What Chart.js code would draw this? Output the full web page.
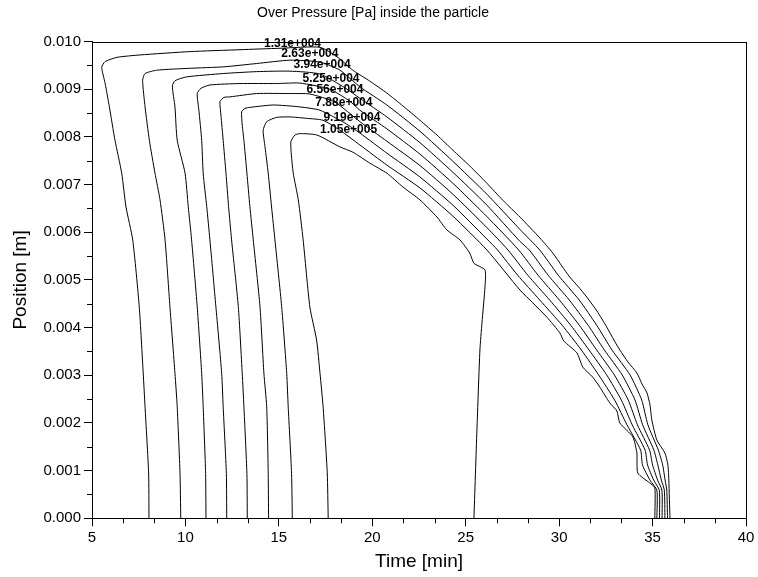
<!DOCTYPE html>
<html>
<head>
<meta charset="utf-8">
<script src="https://cdn.jsdelivr.net/npm/chart.js@4.4.0/dist/chart.umd.min.js"></script>
<style>
html, body { margin: 0; padding: 0; background: #fff; }
#wrap { width: 758px; height: 577px; }
</style>
</head>
<body>
<div id="wrap"><canvas id="chart" width="758" height="577"></canvas></div>
<script>
const FONT = "'Liberation Sans', Arial, sans-serif";

// tick labels
const xTicks = [5, 10, 15, 20, 25, 30, 35, 40];
const yTicks = [0, 0.001, 0.002, 0.003, 0.004, 0.005, 0.006, 0.007, 0.008, 0.009, 0.010];

// contour levels [Pa] and where their labels sit (time, position)
const levelText = ['1.31e+004', '2.63e+004', '3.94e+004', '5.25e+004', '6.56e+004', '7.88e+004', '9.19e+004', '1.05e+005'];
const labelX = [15.73, 16.66, 17.31, 17.79, 18.00, 18.48, 18.91, 18.73];
const labelY = [0.00996, 0.00975, 0.00951, 0.00923, 0.00900, 0.00872, 0.00841, 0.00816];

// contour lines as [time min, position m]
const c1 = [[8.05,0],[8.03,0.00095],[7.84,0.00233],[7.74,0.00305],[7.53,0.00443],[7.18,0.00584],[6.82,0.00653],[6.59,0.00724],[6.23,0.00793],[5.93,0.00863],[5.70,0.00913],[5.52,0.00946],[5.70,0.00958],[6.34,0.00967],[7.57,0.00972],[10.24,0.00979],[12.92,0.00983],[15.06,0.00986],[17.20,0.00988],[18.16,0.00967],[18.96,0.00940],[19.87,0.00917],[20.78,0.00892],[21.64,0.00865],[22.55,0.00835],[23.46,0.00804],[24.32,0.00772],[25.22,0.00739],[26.13,0.00703],[26.99,0.00667],[27.90,0.00632],[28.97,0.00588],[29.67,0.00556],[30.15,0.00529],[30.57,0.00506],[31.00,0.00487],[31.48,0.00464],[32.02,0.00435],[32.55,0.00401],[32.93,0.00374],[33.25,0.00353],[33.68,0.00328],[34.16,0.00305],[34.43,0.00282],[34.70,0.00263],[34.86,0.00238],[34.96,0.00206],[35.23,0.00164],[35.66,0.00137],[35.82,0.00112],[35.87,0.00080],[35.93,0]];
const c2 = [[9.75,0],[9.71,0.00094],[9.56,0.00234],[9.44,0.00304],[9.17,0.00444],[8.91,0.00584],[8.64,0.00668],[8.37,0.00724],[8.07,0.00793],[7.84,0.00863],[7.71,0.00919],[7.84,0.00933],[8.46,0.00940],[10.24,0.00944],[12.02,0.00947],[13.81,0.00954],[15.59,0.00961],[17.20,0.00957],[18.27,0.00940],[19.34,0.00905],[20.78,0.00867],[22.55,0.00812],[24.31,0.00749],[26.13,0.00680],[27.90,0.00606],[28.96,0.00563],[29.95,0.00510],[31.07,0.00458],[32.01,0.00405],[32.83,0.00353],[33.79,0.00301],[34.42,0.00248],[34.75,0.00196],[35.31,0.00143],[35.54,0.00112],[35.67,0.00080],[35.76,0.00059],[35.80,0]];
const c3 = [[11.10,0],[11.08,0.00094],[10.95,0.00234],[10.87,0.00304],[10.63,0.00444],[10.33,0.00584],[10.15,0.00654],[9.98,0.00724],[9.56,0.00793],[9.44,0.00863],[9.30,0.00907],[9.44,0.00918],[10.07,0.00926],[12.02,0.00933],[13.81,0.00937],[15.59,0.00938],[17.20,0.00932],[18.54,0.00903],[19.34,0.00881],[20.78,0.00842],[22.55,0.00788],[24.31,0.00726],[26.13,0.00657],[27.90,0.00581],[28.40,0.00563],[29.41,0.00510],[30.54,0.00458],[31.55,0.00405],[32.42,0.00353],[33.37,0.00301],[34.06,0.00248],[34.47,0.00196],[35.07,0.00143],[35.28,0.00112],[35.47,0.00080],[35.63,0.00059],[35.66,0]];
const c4 = [[12.21,0],[12.19,0.00094],[12.02,0.00234],[11.94,0.00304],[11.63,0.00444],[11.31,0.00584],[11.14,0.00654],[10.95,0.00724],[10.87,0.00793],[10.72,0.00856],[10.63,0.00891],[10.83,0.00902],[11.31,0.00909],[12.92,0.00912],[14.88,0.00912],[16.13,0.00913],[17.73,0.00900],[18.80,0.00875],[19.34,0.00856],[20.78,0.00817],[22.55,0.00764],[24.31,0.00703],[26.13,0.00633],[27.83,0.00563],[28.87,0.00510],[30.01,0.00458],[31.08,0.00405],[32.01,0.00353],[32.95,0.00301],[33.70,0.00248],[34.19,0.00196],[34.84,0.00143],[35.00,0.00112],[35.27,0.00080],[35.50,0.00059],[35.51,0]];
const c5 = [[13.31,0],[13.29,0.00094],[13.13,0.00234],[13.04,0.00304],[12.83,0.00444],[12.47,0.00584],[12.31,0.00654],[12.17,0.00724],[12.02,0.00793],[11.90,0.00846],[11.85,0.00874],[12.06,0.00883],[12.38,0.00884],[13.81,0.00891],[15.59,0.00891],[16.66,0.00890],[18.00,0.00873],[19.34,0.00832],[20.78,0.00791],[22.55,0.00740],[24.31,0.00680],[26.13,0.00610],[27.26,0.00563],[28.32,0.00510],[29.49,0.00458],[30.62,0.00405],[31.60,0.00353],[32.54,0.00301],[33.33,0.00248],[33.91,0.00196],[34.60,0.00143],[34.73,0.00112],[35.06,0.00080],[35.36,0.00059],[35.37,0]];
const c6 = [[14.45,0],[14.43,0.00094],[14.35,0.00234],[14.20,0.00304],[13.99,0.00444],[13.63,0.00584],[13.45,0.00654],[13.29,0.00724],[13.13,0.00793],[13.04,0.00825],[13.01,0.00853],[13.19,0.00860],[13.45,0.00862],[14.70,0.00867],[16.13,0.00863],[17.20,0.00856],[18.54,0.00829],[19.34,0.00808],[20.78,0.00766],[22.55,0.00716],[24.31,0.00657],[26.13,0.00586],[26.70,0.00563],[27.78,0.00510],[28.96,0.00458],[30.16,0.00405],[31.19,0.00353],[32.11,0.00301],[32.97,0.00248],[33.63,0.00196],[34.36,0.00143],[34.46,0.00112],[34.86,0.00080],[35.23,0.00059],[35.23,0]];
const c7 = [[15.72,0],[15.68,0.00094],[15.50,0.00234],[15.42,0.00304],[15.15,0.00444],[14.79,0.00584],[14.61,0.00653],[14.43,0.00724],[14.26,0.00779],[14.16,0.00814],[14.35,0.00832],[14.88,0.00841],[15.59,0.00842],[16.49,0.00839],[17.36,0.00835],[18.27,0.00814],[19.34,0.00783],[20.78,0.00741],[22.55,0.00693],[24.31,0.00634],[26.13,0.00563],[27.90,0.00479],[28.59,0.00452],[29.34,0.00422],[30.04,0.00389],[30.25,0.00372],[30.95,0.00347],[31.27,0.00317],[31.80,0.00296],[32.18,0.00275],[32.71,0.00242],[33.09,0.00225],[33.25,0.00200],[33.94,0.00171],[34.16,0.00137],[34.21,0.00095],[34.85,0.00074],[35.12,0.00064],[35.12,0]];
const c8 = [[17.64,0],[17.59,0.00095],[17.37,0.00233],[17.20,0.00305],[17.02,0.00374],[16.66,0.00443],[16.30,0.00584],[16.04,0.00668],[15.77,0.00724],[15.65,0.00772],[15.65,0.00791],[15.86,0.00804],[16.13,0.00807],[17.04,0.00804],[18.27,0.00779],[18.96,0.00768],[19.87,0.00745],[20.78,0.00724],[21.64,0.00695],[22.55,0.00668],[23.46,0.00632],[23.99,0.00605],[24.69,0.00584],[25.22,0.00556],[25.44,0.00535],[26.03,0.00521],[26.03,0.00485],[25.87,0.00410],[25.76,0.00353],[25.60,0.00185],[25.44,0]];

const contours = [c1, c2, c3, c4, c5, c6, c7, c8];

// box round the plot, minor ticks and contour labels
const decorations = {
    id: 'decorations',
    afterDatasetsDraw(chart) {
        const { ctx, scales: { x, y } } = chart;
        ctx.save();
        ctx.fillStyle = '#000';
        ctx.font = 'bold 12px ' + FONT;
        ctx.textAlign = 'center';
        ctx.textBaseline = 'middle';
        levelText.forEach((t, i) => {
            ctx.fillText(t, x.getPixelForValue(labelX[i]), y.getPixelForValue(labelY[i]));
        });
        ctx.restore();
    },
    afterDraw(chart) {
        const { ctx, chartArea: a, scales: { x, y } } = chart;
        ctx.save();
        ctx.strokeStyle = '#000';
        ctx.lineWidth = 1;
        ctx.strokeRect(Math.round(a.left) + 0.5, Math.round(a.top) + 0.5,
            Math.round(a.right) - Math.round(a.left), Math.round(a.bottom) - Math.round(a.top));
        ctx.beginPath();
        for (let i = 0; i < xTicks.length - 1; i++) {
            const step = (xTicks[i + 1] - xTicks[i]) / 3;
            for (let k = 1; k < 3; k++) {
                const px = Math.round(x.getPixelForValue(xTicks[i] + k * step)) + 0.5;
                ctx.moveTo(px, a.bottom);
                ctx.lineTo(px, a.bottom + 5);
            }
        }
        for (let i = 0; i < yTicks.length - 1; i++) {
            const py = Math.round(y.getPixelForValue((yTicks[i] + yTicks[i + 1]) / 2)) + 0.5;
            ctx.moveTo(a.left, py);
            ctx.lineTo(a.left - 5, py);
        }
        ctx.stroke();
        ctx.restore();
    }
};

new Chart(document.getElementById('chart'), {
    type: 'scatter',
    data: {
        datasets: contours.map((c, i) => ({
            label: levelText[i],
            data: c.map(p => ({ x: p[0], y: p[1] })),
            showLine: true,
            borderColor: '#000',
            borderWidth: 1,
            pointRadius: 0,
            tension: 0.2,
            fill: false
        }))
    },
    options: {
        responsive: false,
        animation: false,
        layout: { padding: { left: 0, right: 12, top: 0, bottom: 0 } },
        plugins: {
            legend: { display: false },
            tooltip: { enabled: false },
            title: {
                display: true,
                text: 'Over Pressure [Pa] inside the particle',
                color: '#000',
                font: { family: FONT, size: 14, weight: 'normal' },
                padding: { top: 5, bottom: 19.8 }
            }
        },
        scales: {
            x: {
                type: 'linear',
                min: 5,
                max: 40,
                afterBuildTicks: s => { s.ticks = xTicks.map(v => ({ value: v })); },
                afterFit: s => { s.height = 58.7; },
                ticks: { color: '#000', font: { family: FONT, size: 15 }, padding: 3, maxRotation: 0, autoSkip: false },
                grid: { drawOnChartArea: false, drawTicks: true, tickLength: 8, color: '#000' },
                border: { display: true, color: '#000' },
                title: { display: true, text: 'Time [min]', color: '#000', font: { family: FONT, size: 19 }, padding: { top: 0, bottom: 4 } }
            },
            y: {
                type: 'linear',
                min: 0,
                max: 0.010,
                afterBuildTicks: s => { s.ticks = yTicks.map(v => ({ value: v })); },
                afterFit: s => { s.width = 92; },
                ticks: { color: '#000', font: { family: FONT, size: 15 }, padding: 3, autoSkip: false, callback: v => v.toFixed(3) },
                grid: { drawOnChartArea: false, drawTicks: true, tickLength: 8, color: '#000' },
                border: { display: true, color: '#000' },
                title: { display: true, text: 'Position [m]', color: '#000', font: { family: FONT, size: 19 }, padding: { top: 9, bottom: 0 } }
            }
        }
    },
    plugins: [decorations]
});
</script>
</body>
</html>
